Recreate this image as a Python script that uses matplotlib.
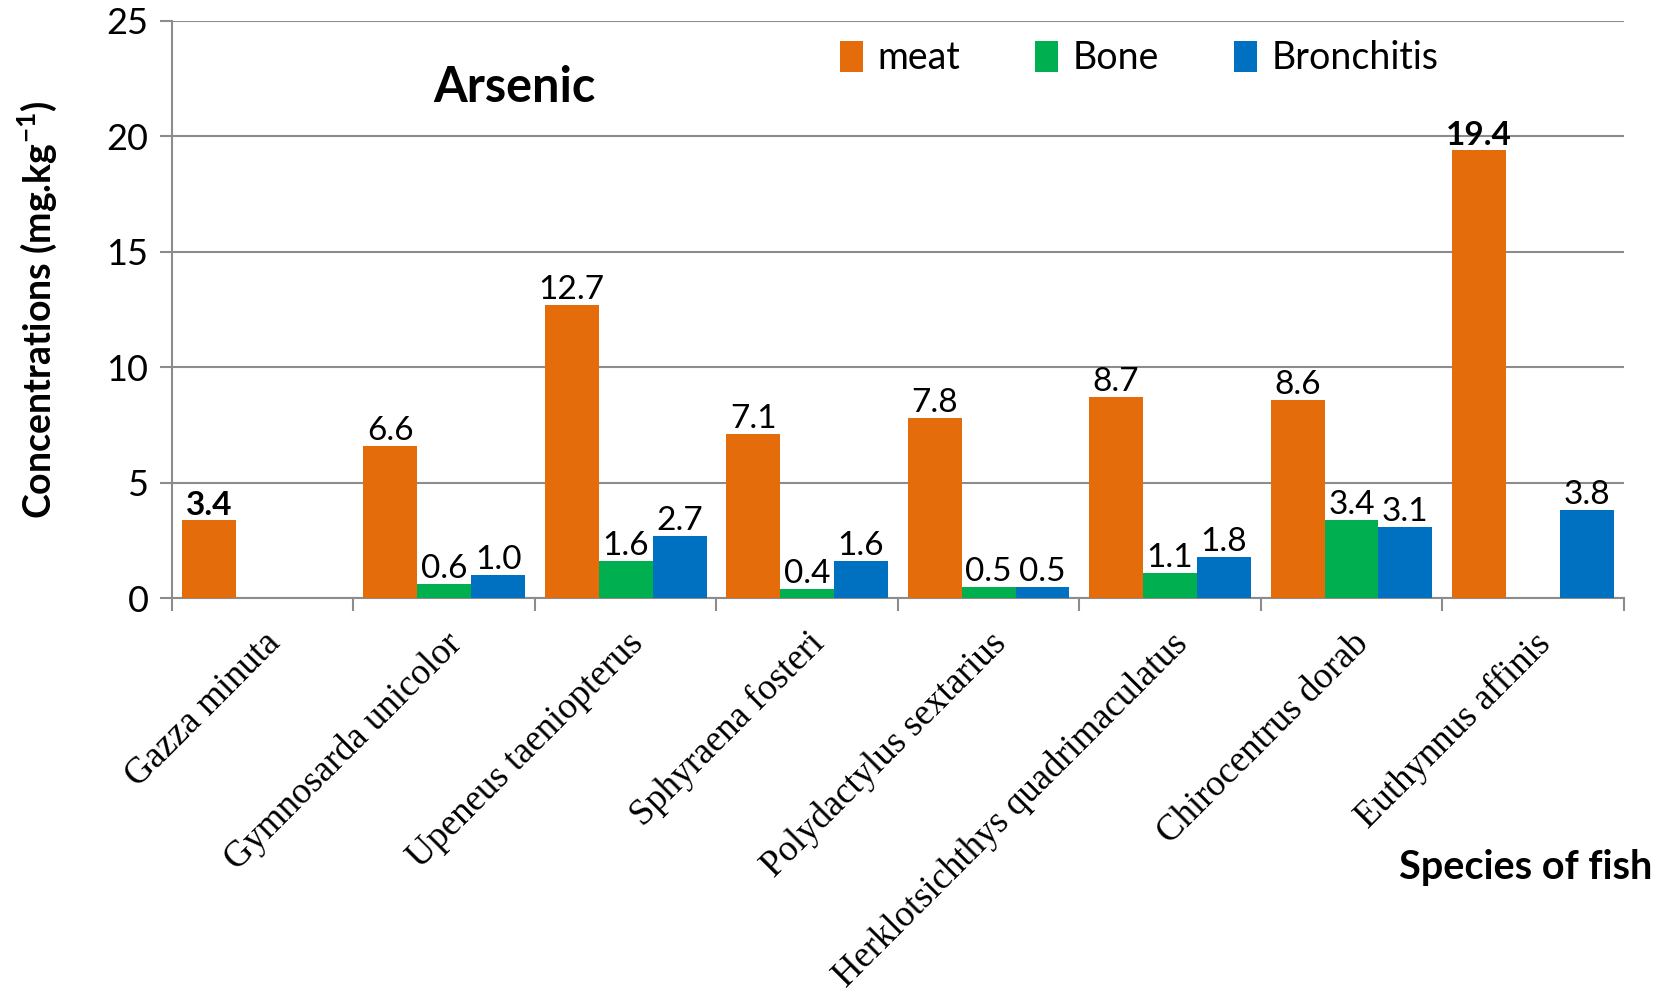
import numpy as np
import matplotlib
matplotlib.use("Agg")
import matplotlib.pyplot as plt

plt.rcParams['font.family'] = ['Lato', 'DejaVu Sans']
plt.rcParams['mathtext.fontset'] = 'custom'
plt.rcParams['mathtext.rm'] = 'Lato'
plt.rcParams['mathtext.bf'] = 'Lato:bold'

species = ["Gazza minuta", "Gymnosarda unicolor", "Upeneus taeniopterus",
           "Sphyraena fosteri", "Polydactylus sextarius",
           "Herklotsichthys quadrimaculatus", "Chirocentrus dorab",
           "Euthynnus affinis"]
meat = [3.4, 6.6, 12.7, 7.1, 7.8, 8.7, 8.6, 19.4]
bone = [np.nan, 0.6, 1.6, 0.4, 0.5, 1.1, 3.4, np.nan]
bronchitis = [np.nan, 1.0, 2.7, 1.6, 0.5, 1.8, 3.1, 3.8]
# which meat labels are printed in bold
meat_bold = [True, False, False, False, False, False, False, True]

colors = ['#E46C0A', '#00B050', '#0070C0']
grid_col = '#8C8C8C'

fig = plt.figure(figsize=(16.59, 9.92), dpi=100)
ax = fig.add_axes([0.1037, 0.397, 0.875, 0.582])

x = np.arange(len(species))
w = 0.297
series = [("meat", meat), ("Bone", bone), ("Bronchitis", bronchitis)]
for i, (name, vals) in enumerate(series):
    bars = ax.bar(x + (i - 1) * w, vals, w, color=colors[i], label=name,
                  zorder=3)
    for j, (b, v) in enumerate(zip(bars, vals)):
        if np.isnan(v):
            continue
        bold = name == "meat" and meat_bold[j]
        ax.annotate(f"{v:.1f}", (b.get_x() + b.get_width() / 2, v),
                    xytext=(0, 0), textcoords='offset points',
                    ha='center', va='bottom', fontsize=24,
                    fontweight='bold' if bold else 'normal', zorder=4)

ax.set_xlim(-0.5, len(species) - 0.5)
ax.set_ylim(0, 25)
ax.set_yticks(np.arange(0, 26, 5))
ax.yaxis.grid(True, color=grid_col, linewidth=1.5, zorder=0)
ax.tick_params(axis='y', labelsize=26, length=9, width=1.5, color=grid_col,
               pad=8)

# category boundaries as ticks, species names centred between them
ax.set_xticks(np.arange(-0.5, len(species), 1))
ax.set_xticklabels([])
ax.tick_params(axis='x', which='major', length=9, width=1.5, color=grid_col)
ax.set_xticks(x, minor=True)
ax.set_xticklabels(species, minor=True, rotation=45, ha='right',
                   rotation_mode='anchor', fontsize=26.5,
                   family='Liberation Serif')
ax.tick_params(axis='x', which='minor', length=0, pad=20)

for s in ['top', 'right']:
    ax.spines[s].set_visible(False)
for s in ['left', 'bottom']:
    ax.spines[s].set_color(grid_col)
    ax.spines[s].set_linewidth(1.5)

ax.set_ylabel(r'Concentrations (mg.kg$^{\mathbf{-1}}$)', fontsize=27,
              fontweight='bold', labelpad=34)
fig.text(0.996, 0.126, "Species of fish", fontsize=28.5, fontweight='bold',
         ha='right', va='center')
ax.text(0.18, 0.885, "Arsenic", transform=ax.transAxes, fontsize=35,
        fontweight='bold', ha='left', va='center')

ax.legend(loc='upper left', bbox_to_anchor=(0.437, 1.025), ncol=3,
          frameon=False, fontsize=27, handlelength=0.6, handleheight=0.9,
          handletextpad=0.4, columnspacing=2.0)

fig.savefig("out.png", dpi=100)
